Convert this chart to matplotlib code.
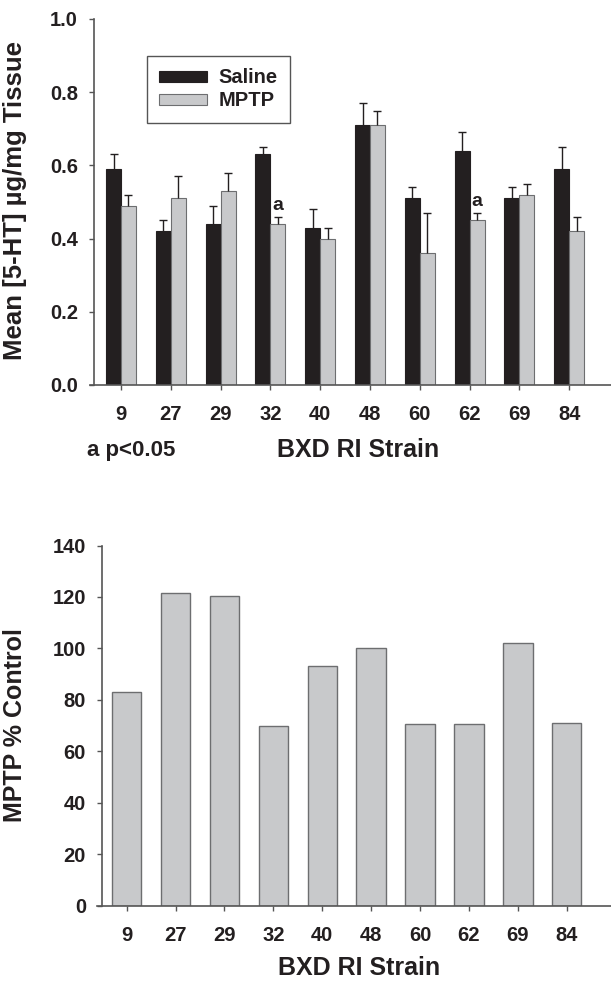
import numpy as np
import matplotlib
matplotlib.use("Agg")
import matplotlib.pyplot as plt
from matplotlib.ticker import FormatStrFormatter

# ---- data -------------------------------------------------------------
strains = ["9", "27", "29", "32", "40", "48", "60", "62", "69", "84"]

saline_mean = [0.59, 0.42, 0.44, 0.63, 0.43, 0.71, 0.51, 0.64, 0.51, 0.59]
saline_sem  = [0.04, 0.03, 0.05, 0.02, 0.05, 0.06, 0.03, 0.05, 0.03, 0.06]
mptp_mean   = [0.49, 0.51, 0.53, 0.44, 0.40, 0.71, 0.36, 0.45, 0.52, 0.42]
mptp_sem    = [0.03, 0.06, 0.05, 0.02, 0.03, 0.04, 0.11, 0.02, 0.03, 0.04]
signif      = ["", "", "", "a", "", "", "", "a", "", ""]

pct_control = [83, 121.5, 120.5, 70, 93, 100, 70.5, 70.5, 102, 71]

# ---- style ------------------------------------------------------------
SALINE_COL = "#231f20"
MPTP_COL   = "#c8c9cb"
EDGE_COL   = "#6d6e70"
AXIS_COL   = "#555555"
TEXT_COL   = "#231f20"
FONT       = ["Liberation Sans", "DejaVu Sans"]

plt.rcParams["font.family"] = FONT
plt.rcParams["font.weight"] = "bold"

W = 611
H = 984
fig = plt.figure(figsize=(W / 100, H / 100), dpi=100)


def style_axes(ax, spine_at):
    for side in ("top", "right"):
        ax.spines[side].set_visible(False)
    for side in ("left", "bottom"):
        ax.spines[side].set_color(AXIS_COL)
        ax.spines[side].set_linewidth(1.2)
    # x axis line runs a few pixels past the y axis, as in the original
    ax.spines["left"].set_position(("axes", spine_at))
    ax.tick_params(axis="both", direction="out", color=AXIS_COL, width=1.0,
                   length=3.5, labelsize=14.5, labelcolor=TEXT_COL)
    ax.tick_params(axis="x", pad=11)
    ax.tick_params(axis="y", pad=8)
    for lab in ax.get_xticklabels() + ax.get_yticklabels():
        lab.set_fontweight("bold")


# ---- top panel: mean 5-HT ---------------------------------------------
ax1 = fig.add_axes([90 / W, (H - 385) / H, 521 / W, 366 / H])
x = np.arange(len(strains))
bw = 0.3

ax1.bar(x - bw / 2, saline_mean, bw, color=SALINE_COL, edgecolor=SALINE_COL,
        linewidth=0.8, label="Saline", zorder=2)
ax1.bar(x + bw / 2, mptp_mean, bw, color=MPTP_COL, edgecolor=EDGE_COL,
        linewidth=0.8, label="MPTP", zorder=2)

zeros = np.zeros(len(strains))
for xs, m, s in ((x - bw / 2, saline_mean, saline_sem),
                 (x + bw / 2, mptp_mean, mptp_sem)):
    m = np.array(m)
    s = np.array(s)
    # upper-only error bars
    ax1.errorbar(xs, m, yerr=[zeros, s], fmt="none", ecolor=TEXT_COL,
                 elinewidth=1.0, capsize=0, zorder=3)
    ax1.plot(xs, m + s, linestyle="none", marker="_", markersize=6,
             markeredgewidth=1.0, color=TEXT_COL, zorder=3)

for xi, m, s, lab in zip(x, mptp_mean, mptp_sem, signif):
    if lab:
        ax1.text(xi + bw / 2, m + s + 0.008, lab, ha="center", va="bottom",
                 fontsize=14, fontweight="bold", color=TEXT_COL)

ax1.set_xlim(-0.622, 9.84)
ax1.set_ylim(0, 1.0)
ax1.set_xticks(x)
ax1.set_xticklabels(strains)
ax1.set_yticks(np.arange(0, 1.01, 0.2))
ax1.yaxis.set_major_formatter(FormatStrFormatter("%.1f"))
style_axes(ax1, 4 / 521)

ax1.set_ylabel("Mean [5-HT] \u00b5g/mg Tissue", fontsize=18.5, fontweight="bold",
               color=TEXT_COL)
ax1.yaxis.set_label_coords(-0.121, 0.503)
ax1.set_xlabel("BXD RI Strain", fontsize=18, fontweight="bold", color=TEXT_COL,
               va="center")
ax1.xaxis.set_label_coords(0.514, -0.178)
ax1.text(0.0787, -0.178, "a p<0.05", transform=ax1.transAxes, ha="center",
         va="center", fontsize=16, fontweight="bold", color=TEXT_COL)

leg = ax1.legend(loc="upper left", bbox_to_anchor=(0.1094, 0.899),
                 borderaxespad=0, fontsize=14.5, handlelength=2.34,
                 handleheight=0.5, handletextpad=0.6, borderpad=0.62,
                 labelspacing=0.2, fancybox=False, edgecolor=AXIS_COL,
                 framealpha=1)
leg.get_frame().set_linewidth(1.0)
for t in leg.get_texts():
    t.set_fontweight("bold")
    t.set_color(TEXT_COL)

# ---- bottom panel: MPTP % control -------------------------------------
ax2 = fig.add_axes([97 / W, (H - 905.5) / H, 514 / W, 360 / H])
ax2.bar(x, pct_control, 0.6, color=MPTP_COL, edgecolor=EDGE_COL,
        linewidth=1.0, zorder=2)
ax2.set_xlim(-0.607, 9.905)
ax2.set_ylim(0, 140)
ax2.set_xticks(x)
ax2.set_xticklabels(strains)
ax2.set_yticks(np.arange(0, 141, 20))
style_axes(ax2, 5 / 514)

ax2.set_ylabel("MPTP % Control", fontsize=18, fontweight="bold", color=TEXT_COL)
ax2.yaxis.set_label_coords(-0.137, 0.5)
ax2.set_xlabel("BXD RI Strain", fontsize=18, fontweight="bold", color=TEXT_COL,
               va="center")
ax2.xaxis.set_label_coords(0.51, -0.174)

fig.savefig("out.png", dpi=100)
